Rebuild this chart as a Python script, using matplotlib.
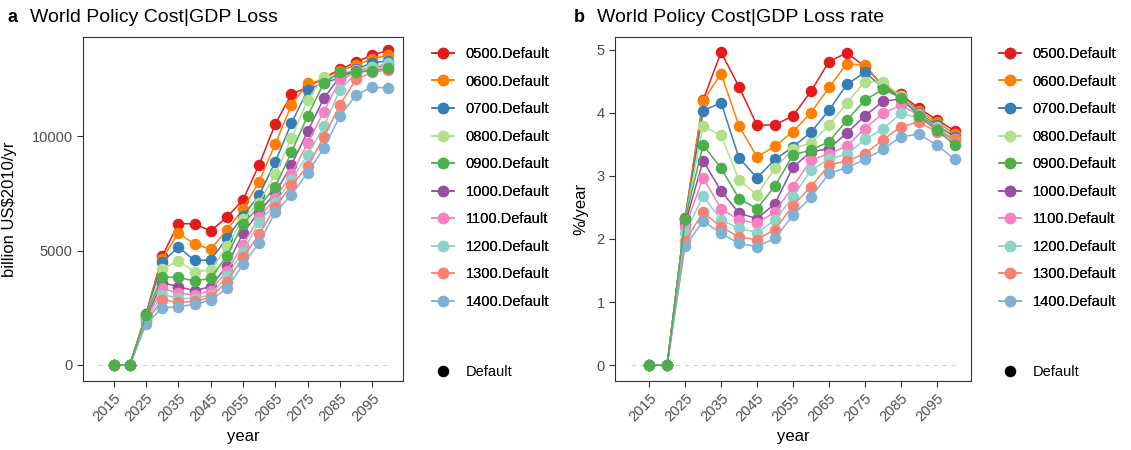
import matplotlib
matplotlib.use("Agg")
import matplotlib.pyplot as plt
from matplotlib.lines import Line2D

plt.rcParams['font.family'] = ['Liberation Sans', 'DejaVu Sans']

years = [2015, 2020, 2025, 2030, 2035, 2040, 2045, 2050, 2055,
         2060, 2065, 2070, 2075, 2080, 2085, 2090, 2095, 2100]
scenarios = ['0500.Default', '0600.Default', '0700.Default', '0800.Default', '0900.Default',
             '1000.Default', '1100.Default', '1200.Default', '1300.Default', '1400.Default']
colors = ['#E41A1C', '#FF7F00', '#377EB8', '#B2DF8A', '#4DAF4A',
          '#984EA3', '#F781BF', '#8DD3C7', '#FB8072', '#80B1D3']

# GDP loss, billion US$2010/yr
gdp_loss = {
    '0500.Default': [0, 0, 2230, 4750, 6180, 6170, 5860, 6460, 7220, 8760, 10540, 11840, 12150, 12550, 12930, 13240, 13560, 13750],
    '0600.Default': [0, 0, 2200, 4650, 5760, 5290, 5060, 5900, 6810, 8020, 9670, 11370, 12320, 12450, 12850, 13120, 13370, 13560],
    '0700.Default': [0, 0, 2170, 4500, 5160, 4570, 4590, 5540, 6520, 7420, 8890, 10570, 12030, 12350, 12540, 12950, 13200, 13310],
    '0800.Default': [0, 0, 2140, 4200, 4540, 4080, 4150, 5200, 6370, 7100, 8350, 9910, 11590, 12610, 12700, 12900, 13050, 13150],
    '0900.Default': [0, 0, 2190, 3850, 3830, 3670, 3790, 4770, 6170, 6930, 7800, 9300, 10890, 12320, 12790, 12790, 12870, 12980],
    '1000.Default': [0, 0, 2050, 3600, 3420, 3250, 3430, 4330, 5760, 6710, 7510, 8750, 10210, 11660, 12600, 12850, 12950, 13150],
    '1100.Default': [0, 0, 2000, 3350, 3140, 3060, 3250, 4110, 5250, 6450, 7290, 8350, 9700, 11080, 12450, 12800, 12950, 13100],
    '1200.Default': [0, 0, 1950, 3080, 2920, 2900, 3060, 3890, 4960, 6250, 7070, 8100, 9190, 10430, 12030, 12750, 13000, 13200],
    '1300.Default': [0, 0, 1880, 2850, 2740, 2780, 2960, 3650, 4710, 5710, 6900, 7870, 8680, 9960, 11370, 12500, 12800, 12900],
    '1400.Default': [0, 0, 1790, 2500, 2550, 2650, 2840, 3350, 4400, 5340, 6680, 7440, 8410, 9480, 10890, 11810, 12150, 12100],
}

# GDP loss rate, %/year
gdp_rate = {
    '0500.Default': [0, 0, 2.33, 4.20, 4.96, 4.41, 3.80, 3.81, 3.95, 4.34, 4.81, 4.95, 4.73, 4.43, 4.29, 4.07, 3.89, 3.71],
    '0600.Default': [0, 0, 2.32, 4.19, 4.62, 3.79, 3.30, 3.47, 3.70, 4.00, 4.40, 4.78, 4.75, 4.42, 4.27, 4.03, 3.85, 3.66],
    '0700.Default': [0, 0, 2.31, 4.03, 4.16, 3.28, 2.97, 3.26, 3.46, 3.69, 4.04, 4.45, 4.64, 4.40, 4.25, 4.00, 3.80, 3.62],
    '0800.Default': [0, 0, 2.30, 3.79, 3.64, 2.93, 2.70, 3.12, 3.43, 3.52, 3.80, 4.16, 4.49, 4.49, 4.26, 3.98, 3.77, 3.58],
    '0900.Default': [0, 0, 2.31, 3.49, 3.12, 2.64, 2.48, 2.84, 3.33, 3.41, 3.54, 3.88, 4.20, 4.37, 4.24, 3.95, 3.72, 3.49],
    '1000.Default': [0, 0, 2.24, 3.24, 2.76, 2.41, 2.32, 2.56, 3.14, 3.38, 3.43, 3.68, 3.95, 4.18, 4.22, 3.97, 3.75, 3.55],
    '1100.Default': [0, 0, 2.19, 2.97, 2.48, 2.30, 2.25, 2.43, 2.83, 3.25, 3.35, 3.47, 3.75, 3.99, 4.12, 3.96, 3.74, 3.55],
    '1200.Default': [0, 0, 2.09, 2.68, 2.30, 2.17, 2.10, 2.30, 2.67, 3.09, 3.27, 3.34, 3.58, 3.74, 3.99, 3.92, 3.73, 3.55],
    '1300.Default': [0, 0, 1.97, 2.42, 2.19, 2.03, 1.99, 2.15, 2.53, 2.83, 3.17, 3.24, 3.35, 3.57, 3.78, 3.85, 3.70, 3.58],
    '1400.Default': [0, 0, 1.89, 2.28, 2.09, 1.93, 1.88, 2.01, 2.38, 2.66, 3.04, 3.13, 3.26, 3.42, 3.62, 3.66, 3.49, 3.26],
}

xticks = [2015, 2025, 2035, 2045, 2055, 2065, 2075, 2085, 2095]
W, H = 1131, 450
fig = plt.figure(figsize=(W / 100, H / 100), dpi=100)


def fx(px):
    return px / W


def fy(py):
    return 1 - py / H


def draw_panel(left, right, data, yticks, ylim, ylabel, ylabel_x, tag, title, tag_x, title_x, leg_x):
    ax = fig.add_axes([fx(left), fy(381), fx(right - left), fy(37) - fy(381)])
    ax.plot([2010, 2100], [0, 0], ls=(0, (4, 4)), color='#CCCCCC', lw=0.8, zorder=1)
    for i, name in enumerate(scenarios):
        # the 0900 run sits on top of the others
        z = 12 if name == '0900.Default' else 2 + i
        ax.plot(years, data[name], color=colors[i], lw=1.1, marker='o', ms=8.3,
                markeredgewidth=0, zorder=z)
    ax.set_xlim(2005.5, 2104.5)
    ax.set_ylim(*ylim)
    ax.set_xticks(xticks)
    ax.set_xticklabels([str(t) for t in xticks], rotation=45, ha='right',
                       rotation_mode='anchor')
    ax.set_yticks(yticks)
    ax.tick_params(axis='both', labelsize=10.5, labelcolor='#4D4D4D', color='#333333',
                   length=4, width=0.8, direction='out')
    for s in ax.spines.values():
        s.set_color('#333333')
        s.set_linewidth(0.8)
    ax.set_xlabel('year', fontsize=12)
    ax.xaxis.set_label_coords(0.5, -0.14)
    ax.set_ylabel(ylabel, fontsize=12)
    ax.yaxis.set_label_coords((ylabel_x - left) / (right - left), 0.5)

    fig.text(fx(tag_x), fy(18), tag, fontsize=13, fontweight='bold', va='center')
    fig.text(fx(title_x), fy(18), title, fontsize=14, va='center')

    handles = [Line2D([], [], color=c, lw=1.1, marker='o', ms=8.3, markeredgewidth=0)
               for c in colors]
    leg = fig.legend(handles, scenarios, loc='upper left',
                     bbox_to_anchor=(fx(leg_x), fy(47)), frameon=False, fontsize=10.5,
                     handlelength=1.5, handletextpad=0.8, labelspacing=0.93,
                     borderpad=0, borderaxespad=0)
    fig.add_artist(leg)
    dot = Line2D([], [], color='black', lw=0, marker='o', ms=8.3, markeredgewidth=0)
    fig.legend([dot], ['Default'], loc='upper left', bbox_to_anchor=(fx(leg_x), fy(365)),
               frameon=False, fontsize=10.5, handlelength=1.5, handletextpad=0.8,
               borderpad=0, borderaxespad=0)
    return ax


draw_panel(83, 403, gdp_loss, [0, 5000, 10000], (-700, 14340), 'billion US$2010/yr', 17,
           'a', 'World Policy Cost|GDP Loss', 8, 30, 432)
draw_panel(615, 971, gdp_rate, [0, 1, 2, 3, 4, 5], (-0.25, 5.2), '%/year', 588,
           'b', 'World Policy Cost|GDP Loss rate', 574, 597, 999)

fig.savefig('out.png', dpi=100)
